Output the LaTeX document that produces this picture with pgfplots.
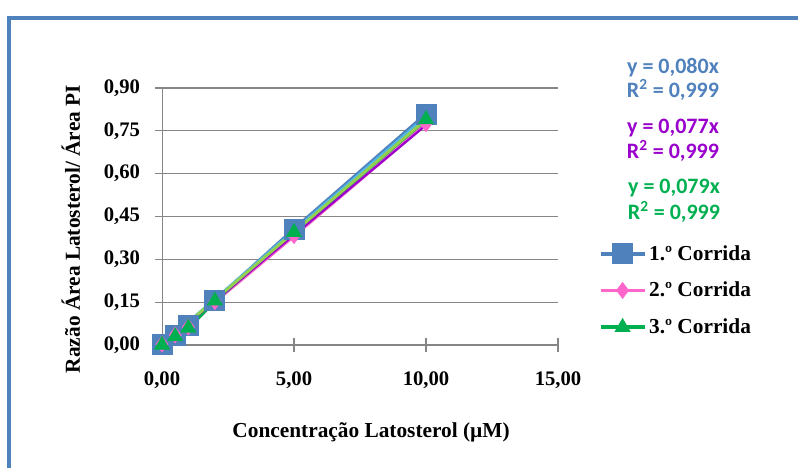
\documentclass[border=0pt]{standalone}
\usepackage{pgfplots}
\pgfplotsset{compat=1.18}
\usepackage{fontspec}
\setmainfont{Liberation Serif}
\newfontfamily\calib{Carlito}
\definecolor{sblue}{HTML}{4F81BD}
\definecolor{spink}{HTML}{FF66CC}
\definecolor{sgreen}{HTML}{00B050}
\definecolor{tblue}{HTML}{4FB8E8}
\definecolor{tpurple}{HTML}{9900CC}
\definecolor{tgreen}{HTML}{92D050}
\definecolor{gridg}{HTML}{868686}
\begin{document}
\begin{tikzpicture}[x=0.75pt,y=0.75pt]
\path[use as bounding box] (0,0) rectangle (798,468);
\draw[sblue,line width=3pt] (9,0) -- (9,450) -- (798,450);
\begin{axis}[
  at={(121.5pt,92.25pt)}, anchor=origin,
  scale only axis, width=297pt, height=192.75pt,
  xmin=0, xmax=15, ymin=0, ymax=0.9,
  xtick={0,5,10,15}, ytick={0,0.15,0.3,0.45,0.6,0.75,0.9},
  axis x line=bottom, axis y line=left,
  axis line style={gridg,-}, tick style={gridg, line width=0.8pt}, tick align=center,
  major tick length=11pt,
  ymajorgrids, grid style={gridg, line width=0.8pt},
  /pgf/number format/.cd, fixed, fixed zerofill, precision=2, use comma, assume math mode=true,
  /pgfplots/.cd,
  ticklabel style={font=\bfseries\fontsize{15.5}{18}\selectfont},
  yticklabel style={xshift=-7.5pt},
  xticklabel style={yshift=-11pt},
  xlabel={Concentração Latosterol (µM)},
  ylabel={Razão Área Latosterol/ Área PI},
  label style={font=\bfseries\fontsize{16}{19}\selectfont},
  xlabel style={at={(axis description cs:0.528,-0.34)}, anchor=center},
  ylabel style={at={(axis description cs:-0.23,0.451)}, anchor=center, rotate=0},
  legend style={at={(1.092,0.41)}, anchor=north west, draw=none, fill=none,
    font=\bfseries\fontsize{16}{19}\selectfont, row sep=11pt},
  legend cell align=left,
  legend image code/.code={\draw[#1] (0pt,0pt) -- (16.5pt,0pt) (33pt,0pt) -- (16.5pt,0pt); \draw[#1,only marks] plot coordinates {(16.5pt,0pt)};},
  clip=false,
]
\addplot[sblue, line width=2.8pt, mark=square*, mark size=7.5pt, mark options={line width=0.5pt}]
  coordinates {(0,0.003) (0.5,0.035) (1,0.068) (2,0.155) (5,0.405) (10,0.808)};
\addlegendentry{1.º Corrida}
\addplot[spink, line width=2.8pt, mark=diamond*, mark size=6pt, mark options={line width=0.5pt}]
  coordinates {(0,0.003) (0.5,0.035) (1,0.063) (2,0.152) (5,0.383) (10,0.775)};
\addlegendentry{2.º Corrida}
\addplot[sgreen, line width=2.8pt, mark=triangle*, mark size=6.5pt, mark options={line width=0.5pt}]
  coordinates {(0,0.0) (0.5,0.03) (1,0.06) (2,0.155) (5,0.395) (10,0.79)};
\addlegendentry{3.º Corrida}
\addplot[tblue, line width=2.2pt, forget plot] coordinates {(0,0) (10,0.80)};
\addplot[tpurple, line width=1.6pt, forget plot] coordinates {(0,0) (10,0.77)};
\addplot[tgreen, line width=2.2pt, forget plot] coordinates {(0,0) (10,0.79)};
\end{axis}
\begin{scope}[font=\calib\bfseries\fontsize{16.5}{19}\selectfont]
\node[sblue] at (673,400) {y = 0,080x};
\node[sblue] at (673,378) {R\textsuperscript{2} = 0,999};
\node[tpurple] at (673,340) {y = 0,077x};
\node[tpurple] at (673,317) {R\textsuperscript{2} = 0,999};
\node[sgreen] at (674,280) {y = 0,079x};
\node[sgreen] at (674,256) {R\textsuperscript{2} = 0,999};
\end{scope}
\end{tikzpicture}
\end{document}
